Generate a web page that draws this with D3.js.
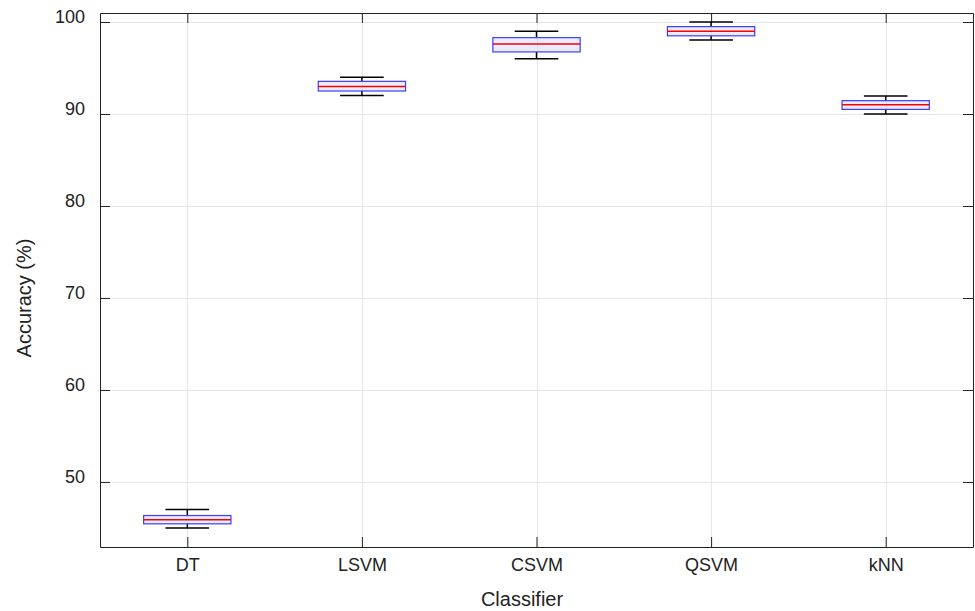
<!DOCTYPE html>
<html>
<head>
<meta charset="utf-8">
<script src="https://cdn.jsdelivr.net/npm/d3@7"></script>
<style>
  body { margin: 0; background: #fff; }
  svg text { font-family: "Liberation Sans", Arial, sans-serif; fill: #222; }
</style>
</head>
<body>
<div id="chart"></div>
<script>
// box statistics
var classifiers = ['DT', 'LSVM', 'CSVM', 'QSVM', 'kNN'];
var whiskerLow  = [45.0, 92.0, 96.0, 98.05, 90.0];
var boxLow      = [45.45, 92.5, 96.75, 98.5, 90.5];
var medians     = [45.9, 93.0, 97.6, 99.0, 91.0];
var boxHigh     = [46.35, 93.55, 98.3, 99.5, 91.45];
var whiskerHigh = [47.0, 94.0, 99.0, 100.0, 91.95];
var yTicks = [50, 60, 70, 80, 90, 100];

var width = 975, height = 611;
var pLeft = 100, pRight = 973, pTop = 13, pBottom = 547;

var svg = d3.select('#chart').append('svg').attr('width', width).attr('height', height);

var x = d3.scaleLinear().domain([0.5, 5.5]).range([pLeft, pRight]);
var y = d3.scaleLinear().domain([42.93, 100.98]).range([pBottom, pTop]);

var data = classifiers.map(function(c, i) {
    return {name: c, pos: i + 1, wl: whiskerLow[i], q1: boxLow[i], med: medians[i], q3: boxHigh[i], wh: whiskerHigh[i]};
});

// grid
var grid = svg.append('g').attr('stroke', '#e6e6e6').attr('stroke-width', 1);
grid.selectAll('line.gy').data(yTicks).enter().append('line')
    .attr('x1', pLeft).attr('x2', pRight)
    .attr('y1', function(d) { return Math.round(y(d)) + 0.5; })
    .attr('y2', function(d) { return Math.round(y(d)) + 0.5; });
grid.selectAll('line.gx').data(data).enter().append('line')
    .attr('y1', pTop).attr('y2', pBottom)
    .attr('x1', function(d) { return Math.round(x(d.pos)) + 0.5; })
    .attr('x2', function(d) { return Math.round(x(d.pos)) + 0.5; });

// axes (ticks inward on all four sides)
var fmt = d3.format('d');
var positions = data.map(function(d) { return d.pos; });
var yAxis = svg.append('g').attr('transform', 'translate(' + pLeft + ',0)')
    .call(d3.axisLeft(y).tickValues(yTicks).tickSizeInner(-10).tickSizeOuter(0).tickPadding(15).tickFormat(fmt));
yAxis.selectAll('.tick text').attr('dy', '0.05em');
svg.append('g').attr('transform', 'translate(' + pRight + ',0)')
    .call(d3.axisRight(y).tickValues(yTicks).tickSizeInner(-10).tickSizeOuter(0).tickFormat(''));
svg.append('g').attr('transform', 'translate(0,' + pBottom + ')')
    .call(d3.axisBottom(x).tickValues(positions)
        .tickSizeInner(-10).tickSizeOuter(0).tickPadding(11)
        .tickFormat(function(d) { return classifiers[d - 1]; }));
svg.append('g').attr('transform', 'translate(0,' + pTop + ')')
    .call(d3.axisTop(x).tickValues(positions)
        .tickSizeInner(-10).tickSizeOuter(0).tickFormat(''));

svg.selectAll('.domain').attr('stroke', '#222');
svg.selectAll('.tick line').attr('stroke', '#222');
svg.selectAll('.tick text').style('font-size', '18px').style('font-family', '"Liberation Sans", Arial, sans-serif').attr('fill', '#222');

// boxes
var half = 0.25, cap = 0.125;
var boxes = svg.append('g').selectAll('g.box').data(data).enter().append('g').attr('class', 'box');

boxes.append('line').attr('stroke', '#000').attr('stroke-width', 1.5)
    .attr('x1', function(d) { return x(d.pos); }).attr('x2', function(d) { return x(d.pos); })
    .attr('y1', function(d) { return y(d.wh); }).attr('y2', function(d) { return y(d.q3); });
boxes.append('line').attr('stroke', '#000').attr('stroke-width', 1.5)
    .attr('x1', function(d) { return x(d.pos); }).attr('x2', function(d) { return x(d.pos); })
    .attr('y1', function(d) { return y(d.q1); }).attr('y2', function(d) { return y(d.wl); });
boxes.append('line').attr('stroke', '#000').attr('stroke-width', 1.5)
    .attr('x1', function(d) { return x(d.pos - cap); }).attr('x2', function(d) { return x(d.pos + cap); })
    .attr('y1', function(d) { return y(d.wh); }).attr('y2', function(d) { return y(d.wh); });
boxes.append('line').attr('stroke', '#000').attr('stroke-width', 1.5)
    .attr('x1', function(d) { return x(d.pos - cap); }).attr('x2', function(d) { return x(d.pos + cap); })
    .attr('y1', function(d) { return y(d.wl); }).attr('y2', function(d) { return y(d.wl); });

boxes.append('rect')
    .attr('x', function(d) { return x(d.pos - half); })
    .attr('width', function(d) { return x(d.pos + half) - x(d.pos - half); })
    .attr('y', function(d) { return y(d.q3); })
    .attr('height', function(d) { return y(d.q1) - y(d.q3); })
    .attr('fill', 'rgba(200,200,255,0.35)')
    .attr('stroke', '#3d3dff').attr('stroke-width', 1.2);

boxes.append('line').attr('stroke', '#ff0000').attr('stroke-width', 1.5)
    .attr('x1', function(d) { return x(d.pos - half); }).attr('x2', function(d) { return x(d.pos + half); })
    .attr('y1', function(d) { return y(d.med); }).attr('y2', function(d) { return y(d.med); });

// axis titles
svg.append('text').attr('x', 522).attr('y', 606).attr('text-anchor', 'middle')
    .style('font-size', '20px').text('Classifier');
svg.append('text').attr('transform', 'translate(31,298) rotate(-90)').attr('text-anchor', 'middle')
    .style('font-size', '20px').text('Accuracy (%)');
</script>
</body>
</html>
